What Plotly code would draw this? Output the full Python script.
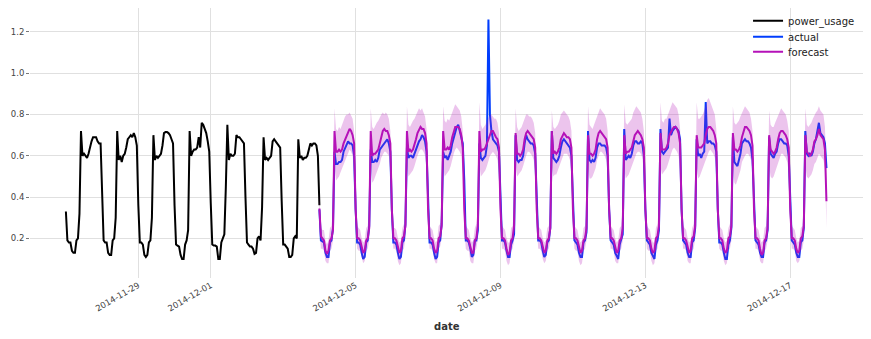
import pandas as pd
import plotly.graph_objects as go

# ---------------- data (hourly values) ----------------
# history: power_usage, one list per day (00h..23h), 2014-11-27 .. 2014-12-03
hist_d1127 = [0.33, 0.19, 0.18, 0.18, 0.14, 0.13, 0.13, 0.19, 0.20, 0.32, 0.72, 0.60, 0.61, 0.60, 0.59, 0.61, 0.65, 0.67, 0.69, 0.69, 0.69, 0.67, 0.66, 0.66]
hist_d1128 = [0.38, 0.19, 0.18, 0.18, 0.13, 0.12, 0.12, 0.19, 0.20, 0.30, 0.72, 0.58, 0.60, 0.57, 0.60, 0.61, 0.64, 0.68, 0.69, 0.70, 0.69, 0.71, 0.69, 0.65]
hist_d1129 = [0.36, 0.18, 0.18, 0.17, 0.12, 0.11, 0.12, 0.18, 0.19, 0.30, 0.70, 0.58, 0.60, 0.59, 0.60, 0.61, 0.65, 0.71, 0.715, 0.715, 0.71, 0.70, 0.68, 0.66]
hist_d1130 = [0.36, 0.17, 0.165, 0.16, 0.12, 0.10, 0.10, 0.17, 0.19, 0.24, 0.72, 0.60, 0.62, 0.63, 0.63, 0.64, 0.69, 0.64, 0.76, 0.75, 0.73, 0.71, 0.67, 0.62]
hist_d1201 = [0.37, 0.17, 0.165, 0.165, 0.16, 0.10, 0.10, 0.18, 0.20, 0.22, 0.45, 0.75, 0.58, 0.61, 0.60, 0.60, 0.61, 0.70, 0.69, 0.69, 0.68, 0.67, 0.66, 0.40]
hist_d1202 = [0.18, 0.17, 0.16, 0.16, 0.15, 0.125, 0.13, 0.20, 0.21, 0.19, 0.35, 0.69, 0.58, 0.59, 0.58, 0.59, 0.60, 0.67, 0.68, 0.67, 0.66, 0.65, 0.64, 0.38]
hist_d1203 = [0.17, 0.17, 0.16, 0.15, 0.11, 0.11, 0.12, 0.20, 0.21, 0.20, 0.68, 0.59, 0.60, 0.58, 0.59, 0.59, 0.60, 0.63, 0.66, 0.65, 0.66, 0.66, 0.65, 0.60]
hist_last = [0.36]

# actual (test part), 2014-12-04 .. 2014-12-17, plus 2014-12-18 00h
act_d1204 = [0.34, 0.19, 0.185, 0.18, 0.13, 0.11, 0.11, 0.18, 0.19, 0.25, 0.62, 0.56, 0.56, 0.57, 0.57, 0.58, 0.62, 0.64, 0.66, 0.67, 0.66, 0.66, 0.65, 0.60]
act_d1205 = [0.34, 0.18, 0.18, 0.17, 0.13, 0.10, 0.11, 0.18, 0.19, 0.26, 0.63, 0.57, 0.57, 0.58, 0.57, 0.59, 0.63, 0.64, 0.65, 0.66, 0.67, 0.68, 0.66, 0.62]
act_d1206 = [0.34, 0.18, 0.18, 0.17, 0.13, 0.10, 0.11, 0.18, 0.19, 0.27, 0.64, 0.59, 0.60, 0.60, 0.59, 0.61, 0.64, 0.66, 0.67, 0.68, 0.70, 0.69, 0.67, 0.62]
act_d1207 = [0.34, 0.18, 0.18, 0.17, 0.13, 0.10, 0.11, 0.18, 0.19, 0.27, 0.62, 0.59, 0.60, 0.58, 0.60, 0.62, 0.66, 0.69, 0.72, 0.74, 0.75, 0.72, 0.70, 0.66]
act_d1208 = [0.48, 0.19, 0.19, 0.18, 0.15, 0.11, 0.12, 0.19, 0.19, 0.24, 0.66, 0.59, 0.58, 0.59, 0.60, 0.65, 1.26, 0.80, 0.72, 0.68, 0.67, 0.66, 0.65, 0.62]
act_d1209 = [0.34, 0.19, 0.19, 0.18, 0.14, 0.11, 0.11, 0.17, 0.19, 0.22, 0.70, 0.58, 0.57, 0.58, 0.58, 0.60, 0.66, 0.70, 0.68, 0.67, 0.66, 0.66, 0.65, 0.61]
act_d1210 = [0.34, 0.19, 0.19, 0.18, 0.14, 0.11, 0.12, 0.18, 0.19, 0.25, 0.72, 0.59, 0.58, 0.57, 0.58, 0.60, 0.64, 0.67, 0.68, 0.67, 0.66, 0.65, 0.64, 0.60]
act_d1211 = [0.34, 0.19, 0.18, 0.17, 0.13, 0.11, 0.11, 0.18, 0.19, 0.23, 0.72, 0.58, 0.57, 0.58, 0.57, 0.59, 0.64, 0.66, 0.66, 0.65, 0.65, 0.65, 0.64, 0.60]
act_d1212 = [0.34, 0.19, 0.18, 0.17, 0.13, 0.11, 0.10, 0.17, 0.19, 0.22, 0.73, 0.58, 0.59, 0.60, 0.59, 0.61, 0.65, 0.67, 0.67, 0.66, 0.66, 0.67, 0.66, 0.60]
act_d1213 = [0.34, 0.19, 0.18, 0.17, 0.13, 0.11, 0.10, 0.17, 0.19, 0.24, 0.73, 0.62, 0.61, 0.62, 0.63, 0.64, 0.78, 0.70, 0.72, 0.73, 0.74, 0.73, 0.72, 0.68]
act_d1214 = [0.34, 0.19, 0.18, 0.17, 0.13, 0.11, 0.11, 0.18, 0.19, 0.25, 0.68, 0.60, 0.61, 0.59, 0.61, 0.62, 0.86, 0.66, 0.67, 0.67, 0.66, 0.66, 0.65, 0.62]
act_d1215 = [0.34, 0.18, 0.18, 0.17, 0.13, 0.10, 0.10, 0.17, 0.19, 0.25, 0.69, 0.57, 0.56, 0.55, 0.58, 0.61, 0.66, 0.67, 0.68, 0.67, 0.67, 0.66, 0.64, 0.58]
act_d1216 = [0.34, 0.19, 0.18, 0.17, 0.13, 0.11, 0.11, 0.18, 0.19, 0.24, 0.69, 0.61, 0.60, 0.59, 0.61, 0.62, 0.66, 0.68, 0.68, 0.67, 0.66, 0.66, 0.65, 0.60]
act_d1217 = [0.34, 0.19, 0.18, 0.17, 0.13, 0.11, 0.11, 0.18, 0.19, 0.25, 0.72, 0.61, 0.60, 0.61, 0.60, 0.62, 0.66, 0.68, 0.72, 0.76, 0.71, 0.70, 0.69, 0.66]
act_last = [0.54]

# forecast (median)
fc_d1204 = [0.345, 0.21, 0.20, 0.19, 0.14, 0.125, 0.14, 0.19, 0.20, 0.24, 0.72, 0.62, 0.62, 0.63, 0.62, 0.63, 0.66, 0.68, 0.70, 0.71, 0.73, 0.72, 0.70, 0.66]
fc_d1205 = [0.34, 0.20, 0.20, 0.19, 0.15, 0.13, 0.14, 0.19, 0.20, 0.25, 0.72, 0.60, 0.61, 0.61, 0.62, 0.63, 0.66, 0.70, 0.72, 0.73, 0.72, 0.72, 0.70, 0.66]
fc_d1206 = [0.34, 0.20, 0.20, 0.19, 0.15, 0.13, 0.14, 0.20, 0.21, 0.26, 0.72, 0.62, 0.63, 0.62, 0.63, 0.65, 0.68, 0.71, 0.73, 0.74, 0.73, 0.73, 0.71, 0.66]
fc_d1207 = [0.34, 0.20, 0.20, 0.19, 0.15, 0.13, 0.14, 0.20, 0.21, 0.26, 0.72, 0.63, 0.63, 0.64, 0.63, 0.65, 0.69, 0.72, 0.74, 0.74, 0.74, 0.73, 0.70, 0.64]
fc_d1208 = [0.34, 0.20, 0.20, 0.19, 0.15, 0.13, 0.13, 0.19, 0.20, 0.26, 0.72, 0.62, 0.63, 0.63, 0.64, 0.66, 0.68, 0.71, 0.72, 0.72, 0.70, 0.69, 0.68, 0.64]
fc_d1209 = [0.34, 0.20, 0.20, 0.19, 0.15, 0.12, 0.13, 0.19, 0.20, 0.26, 0.71, 0.61, 0.61, 0.60, 0.61, 0.63, 0.68, 0.71, 0.72, 0.71, 0.70, 0.69, 0.68, 0.64]
fc_d1210 = [0.34, 0.20, 0.20, 0.19, 0.15, 0.13, 0.14, 0.19, 0.20, 0.25, 0.72, 0.61, 0.62, 0.61, 0.62, 0.64, 0.68, 0.70, 0.71, 0.70, 0.69, 0.69, 0.68, 0.64]
fc_d1211 = [0.34, 0.20, 0.20, 0.19, 0.15, 0.13, 0.14, 0.19, 0.20, 0.25, 0.70, 0.61, 0.61, 0.60, 0.61, 0.63, 0.68, 0.71, 0.72, 0.71, 0.70, 0.69, 0.68, 0.64]
fc_d1212 = [0.34, 0.20, 0.20, 0.19, 0.15, 0.13, 0.14, 0.19, 0.20, 0.25, 0.70, 0.61, 0.62, 0.62, 0.63, 0.64, 0.67, 0.70, 0.71, 0.72, 0.71, 0.70, 0.68, 0.64]
fc_d1213 = [0.34, 0.20, 0.20, 0.19, 0.15, 0.13, 0.14, 0.20, 0.21, 0.26, 0.71, 0.63, 0.63, 0.63, 0.64, 0.66, 0.70, 0.72, 0.73, 0.74, 0.74, 0.73, 0.71, 0.66]
fc_d1214 = [0.34, 0.20, 0.20, 0.19, 0.15, 0.13, 0.14, 0.20, 0.21, 0.26, 0.70, 0.64, 0.64, 0.64, 0.65, 0.66, 0.70, 0.73, 0.74, 0.74, 0.73, 0.72, 0.70, 0.66]
fc_d1215 = [0.34, 0.20, 0.20, 0.19, 0.15, 0.13, 0.14, 0.20, 0.21, 0.26, 0.71, 0.63, 0.63, 0.62, 0.63, 0.65, 0.69, 0.72, 0.74, 0.74, 0.73, 0.72, 0.70, 0.65]
fc_d1216 = [0.34, 0.20, 0.20, 0.19, 0.15, 0.12, 0.13, 0.19, 0.20, 0.25, 0.70, 0.63, 0.62, 0.61, 0.62, 0.64, 0.68, 0.71, 0.72, 0.72, 0.71, 0.70, 0.68, 0.64]
fc_d1217 = [0.34, 0.20, 0.20, 0.19, 0.15, 0.13, 0.14, 0.20, 0.21, 0.26, 0.70, 0.62, 0.61, 0.60, 0.61, 0.63, 0.67, 0.68, 0.70, 0.73, 0.70, 0.69, 0.68, 0.63]
fc_last = [0.38]

# forecast band: upper quantile
up_d1204 = [0.42, 0.25, 0.24, 0.24, 0.19, 0.17, 0.19, 0.25, 0.26, 0.33, 0.83, 0.73, 0.72, 0.74, 0.73, 0.75, 0.78, 0.79, 0.80, 0.80, 0.81, 0.79, 0.78, 0.72]
up_d1205 = [0.42, 0.26, 0.25, 0.24, 0.20, 0.18, 0.19, 0.25, 0.26, 0.34, 0.83, 0.74, 0.73, 0.75, 0.76, 0.77, 0.79, 0.80, 0.81, 0.80, 0.81, 0.80, 0.78, 0.72]
up_d1206 = [0.42, 0.25, 0.25, 0.24, 0.20, 0.18, 0.19, 0.25, 0.27, 0.34, 0.84, 0.75, 0.74, 0.76, 0.77, 0.78, 0.80, 0.82, 0.83, 0.82, 0.83, 0.81, 0.79, 0.73]
up_d1207 = [0.42, 0.26, 0.25, 0.24, 0.20, 0.18, 0.19, 0.26, 0.27, 0.34, 0.84, 0.77, 0.76, 0.78, 0.77, 0.79, 0.81, 0.83, 0.85, 0.84, 0.83, 0.82, 0.79, 0.72]
up_d1208 = [0.42, 0.26, 0.25, 0.24, 0.20, 0.18, 0.19, 0.25, 0.27, 0.35, 0.86, 0.75, 0.73, 0.74, 0.75, 0.77, 0.79, 0.80, 0.80, 0.79, 0.78, 0.78, 0.76, 0.71]
up_d1209 = [0.42, 0.26, 0.25, 0.24, 0.20, 0.18, 0.18, 0.25, 0.26, 0.34, 0.83, 0.74, 0.72, 0.73, 0.74, 0.76, 0.78, 0.80, 0.80, 0.79, 0.79, 0.78, 0.76, 0.71]
up_d1210 = [0.42, 0.26, 0.25, 0.24, 0.20, 0.18, 0.19, 0.25, 0.26, 0.34, 0.82, 0.74, 0.73, 0.74, 0.75, 0.77, 0.80, 0.81, 0.82, 0.81, 0.80, 0.79, 0.77, 0.72]
up_d1211 = [0.42, 0.26, 0.25, 0.24, 0.20, 0.18, 0.19, 0.25, 0.26, 0.33, 0.84, 0.75, 0.74, 0.73, 0.75, 0.77, 0.80, 0.82, 0.83, 0.82, 0.81, 0.80, 0.78, 0.72]
up_d1212 = [0.42, 0.26, 0.25, 0.24, 0.20, 0.18, 0.19, 0.25, 0.26, 0.34, 0.85, 0.76, 0.75, 0.76, 0.77, 0.78, 0.81, 0.83, 0.84, 0.83, 0.82, 0.81, 0.78, 0.72]
up_d1213 = [0.42, 0.26, 0.25, 0.24, 0.20, 0.18, 0.18, 0.25, 0.27, 0.35, 0.86, 0.77, 0.76, 0.78, 0.78, 0.80, 0.83, 0.85, 0.86, 0.85, 0.84, 0.83, 0.80, 0.73]
up_d1214 = [0.42, 0.26, 0.25, 0.24, 0.20, 0.18, 0.19, 0.25, 0.27, 0.35, 0.86, 0.78, 0.78, 0.79, 0.80, 0.82, 0.85, 0.87, 0.88, 0.86, 0.85, 0.83, 0.80, 0.73]
up_d1215 = [0.42, 0.26, 0.25, 0.24, 0.20, 0.18, 0.19, 0.25, 0.27, 0.34, 0.84, 0.76, 0.75, 0.76, 0.77, 0.79, 0.81, 0.83, 0.84, 0.83, 0.82, 0.81, 0.78, 0.72]
up_d1216 = [0.42, 0.26, 0.25, 0.24, 0.20, 0.18, 0.19, 0.25, 0.26, 0.34, 0.82, 0.75, 0.74, 0.74, 0.76, 0.78, 0.80, 0.82, 0.83, 0.82, 0.81, 0.80, 0.77, 0.72]
up_d1217 = [0.42, 0.26, 0.25, 0.24, 0.20, 0.18, 0.19, 0.25, 0.26, 0.34, 0.83, 0.75, 0.74, 0.75, 0.76, 0.78, 0.80, 0.81, 0.82, 0.84, 0.82, 0.81, 0.80, 0.74]
up_last = [0.50]

# forecast band: lower quantile
lo_d1204 = [0.27, 0.15, 0.15, 0.14, 0.09, 0.08, 0.08, 0.14, 0.15, 0.19, 0.55, 0.48, 0.49, 0.50, 0.52, 0.54, 0.56, 0.58, 0.59, 0.62, 0.63, 0.62, 0.60, 0.52]
lo_d1205 = [0.27, 0.15, 0.14, 0.14, 0.10, 0.08, 0.09, 0.14, 0.15, 0.19, 0.54, 0.47, 0.48, 0.50, 0.51, 0.53, 0.56, 0.59, 0.61, 0.62, 0.62, 0.61, 0.60, 0.53]
lo_d1206 = [0.27, 0.15, 0.15, 0.14, 0.09, 0.07, 0.08, 0.14, 0.15, 0.20, 0.55, 0.50, 0.51, 0.52, 0.53, 0.55, 0.58, 0.60, 0.62, 0.63, 0.63, 0.62, 0.60, 0.53]
lo_d1207 = [0.27, 0.15, 0.15, 0.14, 0.10, 0.08, 0.08, 0.15, 0.16, 0.20, 0.55, 0.50, 0.51, 0.52, 0.53, 0.55, 0.59, 0.61, 0.63, 0.64, 0.63, 0.62, 0.60, 0.52]
lo_d1208 = [0.26, 0.15, 0.14, 0.14, 0.09, 0.08, 0.08, 0.14, 0.15, 0.20, 0.56, 0.50, 0.51, 0.52, 0.53, 0.55, 0.58, 0.60, 0.61, 0.62, 0.61, 0.60, 0.58, 0.52]
lo_d1209 = [0.27, 0.15, 0.15, 0.14, 0.09, 0.07, 0.08, 0.14, 0.15, 0.19, 0.55, 0.50, 0.51, 0.52, 0.53, 0.55, 0.58, 0.60, 0.62, 0.62, 0.61, 0.60, 0.58, 0.52]
lo_d1210 = [0.27, 0.15, 0.15, 0.14, 0.10, 0.08, 0.09, 0.14, 0.15, 0.19, 0.55, 0.50, 0.51, 0.51, 0.53, 0.55, 0.58, 0.60, 0.61, 0.61, 0.61, 0.60, 0.58, 0.52]
lo_d1211 = [0.27, 0.15, 0.14, 0.14, 0.09, 0.07, 0.08, 0.14, 0.15, 0.19, 0.54, 0.49, 0.49, 0.50, 0.52, 0.54, 0.58, 0.60, 0.62, 0.62, 0.61, 0.60, 0.58, 0.52]
lo_d1212 = [0.27, 0.15, 0.15, 0.14, 0.09, 0.08, 0.08, 0.14, 0.15, 0.19, 0.54, 0.49, 0.50, 0.51, 0.53, 0.55, 0.58, 0.60, 0.61, 0.62, 0.62, 0.61, 0.59, 0.52]
lo_d1213 = [0.27, 0.15, 0.14, 0.14, 0.09, 0.07, 0.08, 0.14, 0.15, 0.20, 0.55, 0.51, 0.52, 0.53, 0.54, 0.56, 0.59, 0.61, 0.63, 0.64, 0.63, 0.62, 0.60, 0.53]
lo_d1214 = [0.27, 0.15, 0.15, 0.14, 0.09, 0.08, 0.08, 0.14, 0.15, 0.20, 0.55, 0.49, 0.50, 0.52, 0.54, 0.56, 0.59, 0.61, 0.62, 0.63, 0.62, 0.61, 0.59, 0.53]
lo_d1215 = [0.27, 0.15, 0.14, 0.14, 0.09, 0.07, 0.08, 0.14, 0.15, 0.19, 0.54, 0.47, 0.46, 0.48, 0.50, 0.53, 0.57, 0.59, 0.60, 0.61, 0.61, 0.60, 0.58, 0.52]
lo_d1216 = [0.27, 0.15, 0.15, 0.14, 0.09, 0.08, 0.08, 0.14, 0.15, 0.19, 0.55, 0.50, 0.49, 0.50, 0.52, 0.54, 0.57, 0.59, 0.61, 0.61, 0.60, 0.59, 0.57, 0.52]
lo_d1217 = [0.27, 0.15, 0.15, 0.14, 0.09, 0.08, 0.09, 0.14, 0.15, 0.19, 0.55, 0.50, 0.49, 0.50, 0.51, 0.53, 0.56, 0.57, 0.59, 0.61, 0.60, 0.59, 0.58, 0.54]
lo_last = [0.25]

x_tick_vals = ["2014-11-29", "2014-12-01", "2014-12-05", "2014-12-09", "2014-12-13", "2014-12-17"]
y_tick_vals = [0.2, 0.4, 0.6, 0.8, 1.0, 1.2]
series_names = ["power_usage", "actual", "forecast"]

# ---------------- assemble ----------------
hist = (hist_d1127 + hist_d1128 + hist_d1129 + hist_d1130 + hist_d1201 + hist_d1202 + hist_d1203 + hist_last)
actual = (act_d1204 + act_d1205 + act_d1206 + act_d1207 + act_d1208 + act_d1209 + act_d1210
          + act_d1211 + act_d1212 + act_d1213 + act_d1214 + act_d1215 + act_d1216 + act_d1217 + act_last)
forecast = (fc_d1204 + fc_d1205 + fc_d1206 + fc_d1207 + fc_d1208 + fc_d1209 + fc_d1210
            + fc_d1211 + fc_d1212 + fc_d1213 + fc_d1214 + fc_d1215 + fc_d1216 + fc_d1217 + fc_last)
upper = (up_d1204 + up_d1205 + up_d1206 + up_d1207 + up_d1208 + up_d1209 + up_d1210
         + up_d1211 + up_d1212 + up_d1213 + up_d1214 + up_d1215 + up_d1216 + up_d1217 + up_last)
lower = (lo_d1204 + lo_d1205 + lo_d1206 + lo_d1207 + lo_d1208 + lo_d1209 + lo_d1210
         + lo_d1211 + lo_d1212 + lo_d1213 + lo_d1214 + lo_d1215 + lo_d1216 + lo_d1217 + lo_last)

assert len(hist) == 169, len(hist)
for arr in (actual, forecast, upper, lower):
    assert len(arr) == 337, len(arr)

t_hist = pd.date_range("2014-11-27 00:00", periods=len(hist), freq="h")
t_test = pd.date_range("2014-12-04 00:00", periods=len(actual), freq="h")

BLACK = "#000000"
BLUE = "#003DFD"
PURPLE = "#B512B8"
FONT = "DejaVu Sans"

fig = go.Figure()
fig.add_trace(go.Scatter(x=t_hist, y=hist, mode="lines", name=series_names[0], legend="legend",
                         line=dict(color=BLACK, width=2)))
fig.add_trace(go.Scatter(x=t_test, y=actual, mode="lines", name=series_names[1], legend="legend2",
                         line=dict(color=BLUE, width=2)))
fig.add_trace(go.Scatter(x=t_test, y=lower, mode="lines", showlegend=False, hoverinfo="skip",
                         line=dict(width=0, color="rgba(181,18,184,0)")))
fig.add_trace(go.Scatter(x=t_test, y=upper, mode="lines", showlegend=False, hoverinfo="skip",
                         fill="tonexty", fillcolor="rgba(181,18,184,0.25)",
                         line=dict(width=0, color="rgba(181,18,184,0)")))
fig.add_trace(go.Scatter(x=t_test, y=forecast, mode="lines", name=series_names[2], legend="legend3",
                         line=dict(color=PURPLE, width=2)))

legend_style = dict(xanchor="left", yanchor="middle", x=0.862,
                    bgcolor="rgba(255,255,255,0)", borderwidth=0,
                    font=dict(family=FONT, size=10, color="#222222"))

fig.update_layout(
    width=871, height=339,
    margin=dict(l=30, r=8, t=7, b=61),
    paper_bgcolor="white", plot_bgcolor="white",
    font=dict(family=FONT, size=9, color="#444444"),
    showlegend=True,
    legend=dict(y=0.949, **legend_style),
    legend2=dict(y=0.890, **legend_style),
    legend3=dict(y=0.835, **legend_style),
    xaxis=dict(type="date",
               range=["2014-11-26 00:13", "2014-12-19 00:13"],
               tickvals=x_tick_vals, ticktext=x_tick_vals,
               tickangle=-30, tickfont=dict(family=FONT, size=8.5, color="#444444"),
               showgrid=True, gridcolor="#e0e0e0", gridwidth=1,
               showline=False, zeroline=False, ticks=""),
    yaxis=dict(range=[0.008, 1.316],
               tickvals=y_tick_vals, ticktext=["0.2", "0.4", "0.6", "0.8", "1.0", "1.2"],
               tickfont=dict(family=FONT, size=8.5, color="#444444"),
               showgrid=True, gridcolor="#e0e0e0", gridwidth=1,
               showline=False, zeroline=False,
               ticks="outside", ticklen=3, tickcolor="#777777", tickwidth=1),
    annotations=[dict(text="<b>date</b>", xref="paper", yref="paper", x=0.5, y=-0.181,
                      xanchor="center", yanchor="middle", showarrow=False,
                      font=dict(family=FONT, size=10, color="#333333"))],
)

fig.write_html("out.html")
